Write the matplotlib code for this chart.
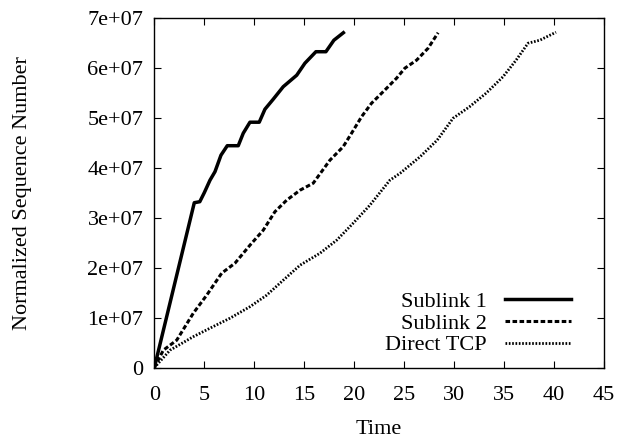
import numpy as np
import matplotlib
matplotlib.use("Agg")
import matplotlib.pyplot as plt

plt.rcParams['font.family'] = ['Liberation Serif', 'DejaVu Serif']
plt.rcParams['font.size'] = 16

# Sublink 1
t1 = [0, 4.0, 4.55, 5.0, 5.57, 6.07, 6.67, 7.3, 8.4, 8.9, 9.57, 10.5, 11.07, 11.9,
      12.9, 14.25, 15.07, 16.17, 17.17, 17.97, 18.92]
s1 = [0, 3.3e7, 3.32e7, 3.5e7, 3.75e7, 3.92e7, 4.25e7, 4.44e7, 4.44e7, 4.69e7, 4.91e7,
      4.91e7, 5.17e7, 5.37e7, 5.62e7, 5.85e7, 6.09e7, 6.32e7, 6.32e7, 6.55e7, 6.7e7]

# Sublink 2
t2 = [0, 0.9, 2.24, 3.9, 5.24, 6.74, 8.07, 9.57, 10.9, 12.07, 13.24, 14.58, 15.9,
      17.57, 18.9, 19.74, 20.74, 21.74, 22.9, 24.24, 25.07, 26.24, 27.4, 28.4]
s2 = [0, 0.35e7, 0.55e7, 1.09e7, 1.45e7, 1.89e7, 2.09e7, 2.45e7, 2.75e7, 3.12e7,
      3.35e7, 3.55e7, 3.69e7, 4.15e7, 4.42e7, 4.69e7, 5.02e7, 5.29e7, 5.52e7,
      5.79e7, 5.99e7, 6.15e7, 6.39e7, 6.7e7]

# Direct TCP
t3 = [0, 1.57, 3.9, 5.57, 7.57, 9.57, 11.24, 12.9, 14.58, 16.58, 18.25, 19.9, 21.57,
      23.57, 24.6, 26.6, 28.3, 29.9, 31.55, 33.2, 34.9, 36.2, 37.4, 38.57, 40.2]
s3 = [0, 0.35e7, 0.62e7, 0.79e7, 0.99e7, 1.22e7, 1.45e7, 1.75e7, 2.05e7, 2.29e7,
      2.55e7, 2.89e7, 3.25e7, 3.75e7, 3.89e7, 4.22e7, 4.55e7, 4.99e7, 5.22e7,
      5.49e7, 5.82e7, 6.15e7, 6.49e7, 6.55e7, 6.71e7]

xticks = [0, 5, 10, 15, 20, 25, 30, 35, 40, 45]
yticks = [0, 1e7, 2e7, 3e7, 4e7, 5e7, 6e7, 7e7]
yticklabels = ["0", "1e+07", "2e+07", "3e+07", "4e+07", "5e+07", "6e+07", "7e+07"]

fig = plt.figure(figsize=(6.21, 4.43), dpi=100)
ax = fig.add_axes([0.2485, 0.170, 0.7241, 0.790])

ax.plot(t1, s1, color='black', lw=2.5, label="Sublink 1")
ax.plot(t2, s2, color='black', lw=2.2, dashes=(1.5, 0.8), label="Sublink 2")
ax.plot(t3, s3, color='black', lw=2.0, dashes=(0.6, 0.6), label="Direct TCP")

ax.set_xlim(0, 45)
ax.set_ylim(0, 7e7)
ax.set_xticks(xticks)
ax.set_yticks(yticks)
ax.set_yticklabels(yticklabels)
ax.tick_params(direction='in', length=5, top=True, right=True)
ax.tick_params(axis='y', pad=8)
ax.tick_params(axis='x', pad=13)
for s in ax.spines.values():
    s.set_linewidth(1.0)

ax.set_xlabel("Time", labelpad=11)
ax.set_ylabel("Normalized Sequence Number", labelpad=40)

ax.legend(loc='lower right', bbox_to_anchor=(0.957, -0.003), frameon=False,
          markerfirst=False, handlelength=3.0, handletextpad=0.8,
          labelspacing=0.05, borderaxespad=0.2)

fig.savefig("out.png", dpi=100)
